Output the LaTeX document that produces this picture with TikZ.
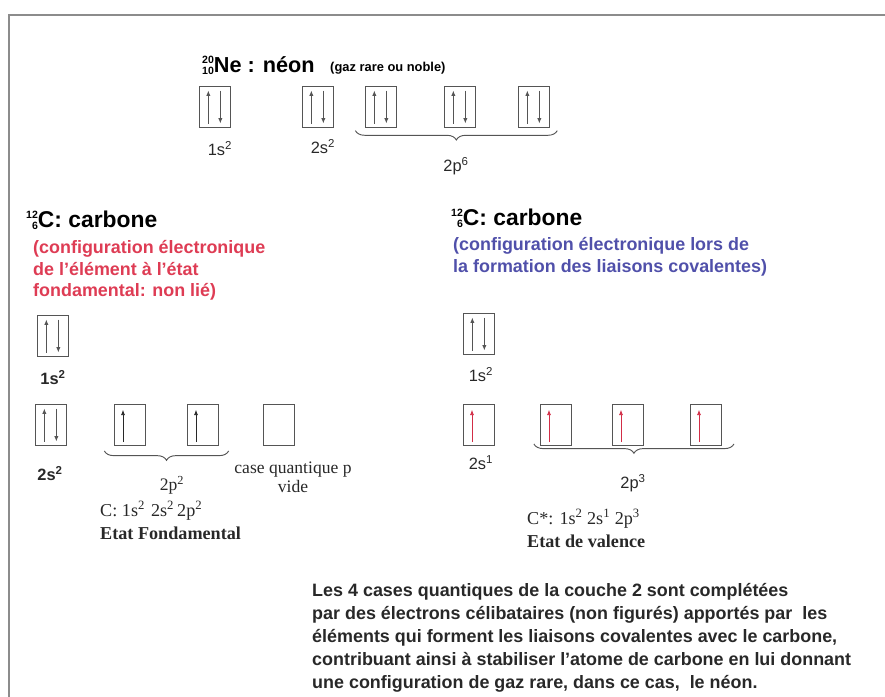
\documentclass[tikz,border=0pt]{standalone}
\usepackage{fontspec}
\setmainfont{Liberation Serif}
\setsansfont{Liberation Sans}
\usetikzlibrary{arrows.meta,decorations.pathreplacing}
\definecolor{cadre}{RGB}{140,140,140}
\definecolor{caseg}{RGB}{85,85,85}
\definecolor{rougetxt}{RGB}{222,60,84}
\definecolor{bleutxt}{RGB}{80,80,170}
\definecolor{spinrouge}{RGB}{210,45,70}
\definecolor{encre}{RGB}{40,40,40}
\newcommand{\nucl}[2]{\raisebox{-0.2ex}{\fontsize{9}{8}\selectfont\shortstack[r]{#1\\#2}}}
\newcommand{\ex}[1]{\textsuperscript{#1}}

\begin{document}
\begin{tikzpicture}[x=0.03cm,y=-0.03cm]
	\tikzset{case/.style = {draw=caseg, line width=1.3pt, minimum width=0.93cm, minimum height=1.23cm, inner sep=0pt}}
	\tikzset{spin/.style = {-{Latex[length=4.5pt,width=3.5pt]}, line width=0.7pt}}
	\tikzset{paire/.style = {case, path picture={
		\draw[spin] ([xshift=-0.2cm,yshift=0.12cm]path picture bounding box.south) -- ([xshift=-0.2cm,yshift=-0.12cm]path picture bounding box.north);
		\draw[spin] ([xshift=0.16cm,yshift=-0.12cm]path picture bounding box.north) -- ([xshift=0.16cm,yshift=0.12cm]path picture bounding box.south);}}}
	\tikzset{seul/.style = {case, path picture={
		\draw[spin, #1] ([xshift=-0.21cm,yshift=0.1cm]path picture bounding box.south) -- ([xshift=-0.21cm,yshift=-0.16cm]path picture bounding box.north);}},
		seul/.default=encre}
	\tikzset{titre/.style = {anchor=base west, inner sep=0pt, font=\sffamily\bfseries\fontsize{19.5}{22}\selectfont}}
	\tikzset{ligne/.style = {anchor=base west, inner sep=0pt, font=\sffamily\bfseries\fontsize{15.3}{18}\selectfont}}
	\tikzset{lab/.style = {inner sep=0pt, text=encre, font=\sffamily\fontsize{14}{16}\selectfont}}
	\tikzset{labserif/.style = {inner sep=0pt, text=encre, font=\fontsize{15}{16}\selectfont}}
	\tikzset{accolade/.style = {draw=caseg, line width=0.8pt, decorate, decoration={brace, mirror, amplitude=8pt}}}

	\useasboundingbox (0,0) rectangle (885,697);
	% cadre
	\draw[cadre, line width=2.2pt] (885,15) -- (9,15) -- (9,697);

	% neon
	\node[titre, font=\sffamily\bfseries\fontsize{18.5}{22}\selectfont] (neon) at (202,72) {\nucl{20}{10}Ne : néon};
	\node[anchor=base west, inner sep=0pt, font=\sffamily\bfseries\fontsize{11}{12}\selectfont] (gaz) at (330,71) {(gaz rare ou noble)};
	\node[paire] (ne1s) at (215,107) {};
	\node[paire] (ne2s) at (318,107) {};
	\node[paire] (ne2pa) at (381,107) {};
	\node[paire] (ne2pb) at (460,107) {};
	\node[paire] (ne2pc) at (534,107) {};
	\node[lab] (l1) at (220,149) {1s\ex{2}};
	\node[lab] (l2) at (323,147) {2s\ex{2}};
	\draw[accolade] ([xshift=-8pt,yshift=-2pt]ne2pa.south west) -- ([xshift=6pt,yshift=-2pt]ne2pc.south east);
	\node[lab] (l3) at (456,166) {2p\ex{6}};

	% carbone, etat fondamental
	\node[titre] (cf) at (26,227) {\nucl{12}{6}C: carbone};
	\node[ligne, text=rougetxt] (rouge1) at (33,253) {(configuration électronique};
	\node[ligne, text=rougetxt] (rouge2) at (33,275) {de l'élément à l'état};
	\node[ligne, text=rougetxt] (rouge3) at (33,296) {fondamental: non lié)};
	\node[paire] (cf1s) at (53,336) {};
	\node[lab, font=\sffamily\bfseries\fontsize{14}{16}\selectfont] (l4) at (53,378) {1s\ex{2}};
	\node[paire] (cf2s) at (51,425) {};
	\node[seul] (cf2pa) at (130,425) {};
	\node[seul] (cf2pb) at (203,425) {};
	\node[case] (cfvide) at (279,425) {};
	\node[lab, font=\sffamily\bfseries\fontsize{14}{16}\selectfont] (l5) at (50,474) {2s\ex{2}};
	\draw[accolade] ([xshift=-8pt,yshift=-4pt]cf2pa.south west) -- ([xshift=8pt,yshift=-4pt]cf2pb.south east);
	\node[labserif] (l6) at (172,485) {2p\ex{2}};
	\node[labserif, align=center] (vide) at (293,477) {case quantique p\\vide};
	\node[anchor=base west, inner sep=0pt, text=encre, font=\fontsize{15.5}{17}\selectfont] (cfconf) at (100,516) {C: 1s\ex{2}\,\,2s\ex{2}\,2p\ex{2}};
	\node[anchor=base west, inner sep=0pt, text=encre, font=\bfseries\fontsize{15.5}{17}\selectfont] (cfetat) at (100,539) {Etat Fondamental};

	% carbone, etat de valence
	\node[titre] (cv) at (451,225) {\nucl{12}{6}C: carbone};
	\node[ligne, text=bleutxt] (bleu1) at (453,250) {(configuration électronique lors de};
	\node[ligne, text=bleutxt] (bleu2) at (453,272) {la formation des liaisons covalentes)};
	\node[paire] (cv1s) at (479,334) {};
	\node[lab] (l7) at (481,375) {1s\ex{2}};
	\node[seul=spinrouge] (cv2s) at (479,425) {};
	\node[seul=spinrouge] (cv2pa) at (556,425) {};
	\node[seul=spinrouge] (cv2pb) at (628,425) {};
	\node[seul=spinrouge] (cv2pc) at (706,425) {};
	\node[lab] (l8) at (481,463) {2s\ex{1}};
	\draw[accolade] ([xshift=-5pt,yshift=2pt]cv2pa.south west) -- ([xshift=10pt,yshift=2pt]cv2pc.south east);
	\node[lab] (l9) at (633,483) {2p\ex{3}};
	\node[anchor=base west, inner sep=0pt, text=encre, font=\fontsize{15.5}{17}\selectfont] (cvconf) at (527,524) {C*: 1s\ex{2} 2s\ex{1} 2p\ex{3}};
	\node[anchor=base west, inner sep=0pt, text=encre, font=\bfseries\fontsize{15.5}{17}\selectfont] (cvetat) at (527,547) {Etat de valence};

	% commentaire
	\node[ligne, text=encre] (par1) at (312,596) {Les 4 cases quantiques de la couche 2 sont complétées};
	\node[ligne, text=encre] (par2) at (312,619) {par des électrons célibataires (non figurés) apportés par\ \ les};
	\node[ligne, text=encre] (par3) at (312,642) {éléments qui forment les liaisons covalentes avec le carbone,};
	\node[ligne, text=encre] (par4) at (312,665) {contribuant ainsi à stabiliser l'atome de carbone en lui donnant};
	\node[ligne, text=encre] (par5) at (312,688) {une configuration de gaz rare, dans ce cas,\ \ le néon.};
\end{tikzpicture}
\end{document}
